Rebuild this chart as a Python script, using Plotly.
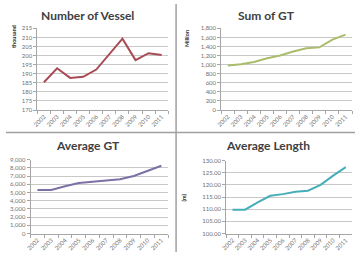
import plotly.graph_objects as go

years = ["2002", "2003", "2004", "2005", "2006", "2007", "2008", "2009", "2010", "2011"]
num_vessel = [185.3, 193.0, 187.7, 188.3, 192.3, 201.0, 209.3, 197.5, 201.3, 200.3]
sum_gt = [980, 1010, 1060, 1140, 1200, 1290, 1360, 1380, 1550, 1660]
avg_gt = [5300, 5300, 5750, 6150, 6300, 6450, 6600, 7000, 7650, 8250]
avg_len = [109.8, 109.8, 112.8, 115.5, 116.2, 117.2, 117.6, 120.0, 123.8, 127.3]

titles = ["Number of Vessel", "Sum of GT", "Average GT", "Average Length"]
colors = ["#A94B55", "#A9BD6C", "#7C70A4", "#46AEB8"]

W, H = 355, 255

def fx(px):
    return px / W

def fy(py):
    return 1 - py / H

panels = [
    dict(data=num_vessel, x=(32, 165), y=(25, 109), rng=[170, 215], dt=5, fmt="d",
         title_xy=(83, 12), ytitle="thousand", ytitle_xy=(8, 33)),
    dict(data=sum_gt, x=(219, 352), y=(25, 109), rng=[0, 1800], dt=200, fmt=",",
         title_xy=(265, 12), ytitle="Million", ytitle_xy=(184, 35)),
    dict(data=avg_gt, x=(25, 165), y=(160, 236), rng=[0, 9000], dt=1000, fmt=",",
         title_xy=(83, 146), ytitle=None, ytitle_xy=None),
    dict(data=avg_len, x=(224, 352), y=(161, 236), rng=[100, 130], dt=5, fmt=".2f",
         title_xy=(267, 146), ytitle="(m)", ytitle_xy=(181, 199)),
]

fig = go.Figure()
annotations = []
layout = {}
for i, p in enumerate(panels):
    n = i + 1
    xa = "x" if n == 1 else f"x{n}"
    ya = "y" if n == 1 else f"y{n}"
    fig.add_trace(go.Scatter(x=years, y=p["data"], mode="lines",
                             line=dict(color=colors[i], width=2),
                             xaxis=xa, yaxis=ya, showlegend=False))
    layout[f"xaxis{'' if n == 1 else n}"] = dict(
        domain=[fx(p["x"][0]), fx(p["x"][1])], anchor=ya,
        type="category", range=[-0.5, 9.5], tickangle=-45,
        tickfont=dict(size=6, color="#707070", family="Lato"),
        showgrid=False, showline=True, linecolor="#A6A6A6", linewidth=1,
        ticks="outside", ticklen=3, tickcolor="#A6A6A6", tickson="boundaries",
        fixedrange=True)
    layout[f"yaxis{'' if n == 1 else n}"] = dict(
        domain=[fy(p["y"][1]), fy(p["y"][0])], anchor=xa,
        range=p["rng"], dtick=p["dt"], tick0=p["rng"][0], tickformat=p["fmt"],
        tickfont=dict(size=6, color="#707070", family="Lato"),
        showgrid=True, gridcolor="#C8C8C8", gridwidth=1,
        showline=True, linecolor="#A6A6A6", linewidth=1,
        ticks="outside", ticklen=3, tickcolor="#A6A6A6",
        zeroline=False, fixedrange=True)
    tx, ty = p["title_xy"]
    annotations.append(dict(text=f"<b>{titles[i]}</b>", x=fx(tx), y=fy(ty),
                            xref="paper", yref="paper", showarrow=False,
                            xanchor="center", yanchor="middle",
                            font=dict(size=12, color="#404040", family="Lato")))
    if p["ytitle"]:
        ax, ay = p["ytitle_xy"]
        annotations.append(dict(text=f"<b>{p['ytitle']}</b>", x=fx(ax), y=fy(ay),
                                xref="paper", yref="paper", showarrow=False,
                                textangle=-90, xanchor="center", yanchor="middle",
                                font=dict(size=5.5, color="#303030", family="Lato")))

shapes = [
    dict(type="line", xref="paper", yref="paper", x0=fx(173), x1=fx(173), y0=0, y1=1,
         line=dict(color="#A0A0A0", width=1.5)),
    dict(type="line", xref="paper", yref="paper", x0=0, x1=1, y0=fy(132), y1=fy(132),
         line=dict(color="#A0A0A0", width=1.5)),
]

fig.update_layout(width=W, height=H, margin=dict(l=0, r=0, t=0, b=0),
                  paper_bgcolor="white", plot_bgcolor="white",
                  annotations=annotations, shapes=shapes, **layout)

fig.write_html("out.html")
